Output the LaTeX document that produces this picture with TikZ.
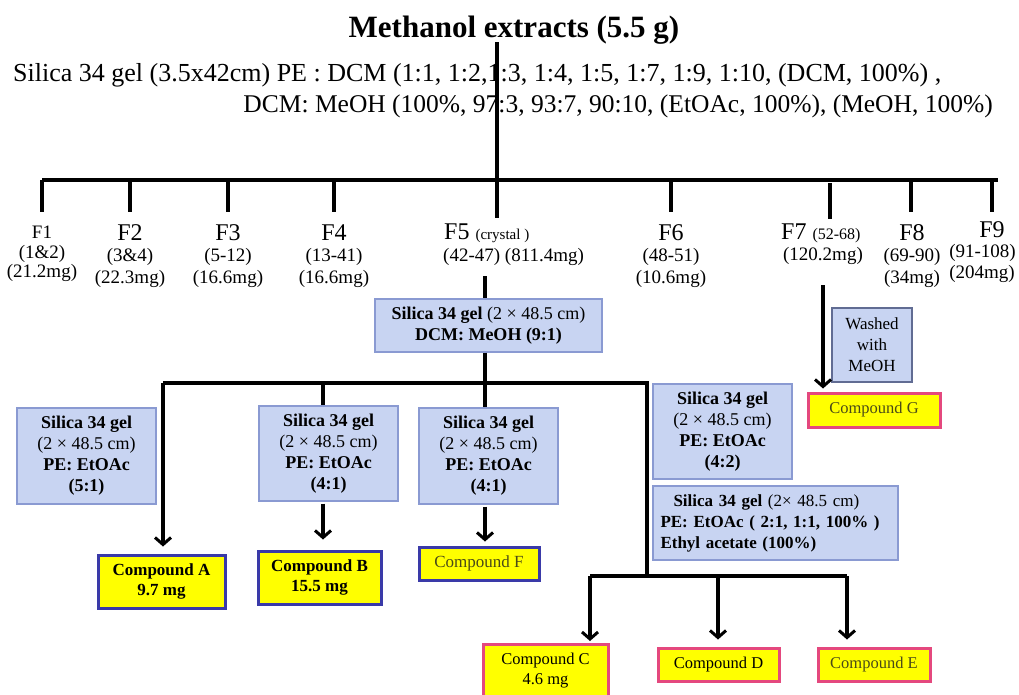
\documentclass[tikz,border=0pt]{standalone}
\usepackage{fontspec}
\setmainfont{Liberation Serif}
\usetikzlibrary{arrows.meta,positioning}

\definecolor{gelfill}{HTML}{C8D4F2}
\definecolor{geldraw}{HTML}{8A9AD2}
\definecolor{cmpfill}{HTML}{FFFF00}
\definecolor{bluedraw}{HTML}{3A3AA8}
\definecolor{reddraw}{HTML}{E4487E}
\definecolor{olivetext}{HTML}{4A4A18}

\newcommand\titlefont{\fontsize{31}{36}\selectfont}
\newcommand\elufont{\fontsize{25.5}{30}\selectfont}
\newcommand\fnamefont{\fontsize{24}{28}\selectfont}
\newcommand\fsubfont{\fontsize{19}{22}\selectfont}
\newcommand\gelfont{\fontsize{18}{21}\selectfont}
\newcommand\cmpfont{\fontsize{16.5}{19.5}\selectfont}

\tikzset{
  gelbox/.style={draw=geldraw, fill=gelfill, line width=1.2pt, align=center, inner sep=2pt, font=\gelfont},
  cmpblue/.style={draw=bluedraw, fill=cmpfill, line width=3pt, align=center, inner sep=2pt, font=\fontsize{17}{20}\selectfont},
  cmpred/.style={draw=reddraw, fill=cmpfill, line width=3pt, align=center, inner sep=2pt, font=\cmpfont},
  fname/.style={inner sep=0pt, font=\fnamefont},
  fsub/.style={inner sep=0pt, font=\fsubfont},
  conn/.style={line width=3.2pt},
  arr/.style={conn, -{Straight Barb[length=7pt,width=16pt,line width=3pt]}}
}

\begin{document}
\begin{tikzpicture}[x=1pt,y=-1pt]
\useasboundingbox (0,0) rectangle (1019,694);

% title and eluent of the first column
\node (meth) [inner sep=0pt, font=\titlefont] at (514,30) {\textbf{Methanol extracts (5.5 g)}};
\node (elu1) [inner sep=0pt, font=\fontsize{26}{30}\selectfont, anchor=base west] at (13,81)
  {Silica 34 gel (3.5x42cm) PE : DCM (1:1, 1:2,1:3, 1:4, 1:5, 1:7, 1:9, 1:10, (DCM, 100\%) ,};
\node (elu2) [inner sep=0pt, font=\elufont, anchor=base east] at (993,112)
  {DCM: MeOH (100\%, 97:3, 93:7, 90:10, (EtOAc, 100\%), (MeOH, 100\%)};

% fraction bar
\coordinate (top) at (497,42);
\coordinate (barL) at (42,180);
\coordinate (barR) at (998,180);
\coordinate (d5) at (497,218);
\draw[conn] (barL) -- (barR);
\draw[conn] (top) -- (d5);
\foreach \n/\x in {1/42,2/130,3/228,4/334,6/671,8/911,9/992} {
  \coordinate (d\n) at (\x,212);
  \draw[conn] (d\n |- barL) -- (d\n);
}
\coordinate (d7t) at (830,183);
\coordinate (d7) at (830,219);
\draw[conn] (d7t) -- (d7);

% fractions
\node (fn1) [inner sep=0pt, font=\fsubfont] at (42,232) {F1};
\node (fr1) [fsub] at (42,254) {(1\&2)};
\node (fm1) [fsub] at (42,273) {(21.2mg)};
\foreach \n/\x/\r/\m in {2/130/(3\&4)/(22.3mg), 3/228/(5-12)/(16.6mg), 4/334/(13-41)/(16.6mg),
                         6/671/(48-51)/(10.6mg), 8/912/(69-90)/(34mg)} {
  \node (fn\n) [fname] at (\x,233) {F\n};
  \node (fr\n) [fsub] at (\x,257) {\r};
  \node (fm\n) [fsub] at (\x,279) {\m};
}
\node (fn5) [fname, anchor=west] at (444,233) {F5 {\fontsize{15}{18}\selectfont(crystal )}};
\node (fr5) [fsub, anchor=west] at (443,257) {(42-47) (811.4mg)};
\node (fn7) [fname, anchor=west] at (781,233) {F7 {\fontsize{16}{18}\selectfont(52-68)}};
\node (fm7) [fsub] at (823,256) {(120.2mg)};
\node (fn9) [fname] at (992,230) {F9};
\node (fr9) [fsub, anchor=east] at (1016,253) {(91-108)};
\node (fm9) [fsub, anchor=east] at (1015,274) {(204mg)};

% F5 column
\node (sg5) [gelbox, minimum width=227pt, minimum height=53pt] at (488.5,325.5)
  {\textbf{Silica 34 gel} (2 × 48.5 cm)\\\textbf{DCM: MeOH (9:1)}};
\coordinate (c5) at (485,276);
\draw[conn] (c5) -- (c5 |- sg5.north);

\node (sgA) [gelbox, minimum width=139pt, minimum height=96pt] at (86.5,456)
  {\textbf{Silica 34 gel}\\(2 × 48.5 cm)\\\textbf{PE: EtOAc}\\\textbf{(5:1)}};
\node (sgB) [gelbox, minimum width=139pt, minimum height=95pt] at (328.5,453.5)
  {\textbf{Silica 34 gel}\\(2 × 48.5 cm)\\\textbf{PE: EtOAc}\\\textbf{(4:1)}};
\node (sgF) [gelbox, minimum width=139pt, minimum height=96pt] at (488.5,456)
  {\textbf{Silica 34 gel}\\(2 × 48.5 cm)\\\textbf{PE: EtOAc}\\\textbf{(4:1)}};
\node (sgD) [gelbox, minimum width=139pt, minimum height=95pt] at (722.5,431.5)
  {\textbf{Silica 34 gel}\\(2 × 48.5 cm)\\\textbf{PE: EtOAc}\\\textbf{(4:2)}};
\node (sgE) [gelbox, font=\fontsize{17}{21}\selectfont, minimum width=245pt, minimum height=74pt,
             text width=230pt, align=left] at (775.5,523)
  {\hspace*{13pt}\textbf{Silica 34 gel} (2× 48.5 cm)\\\textbf{PE: EtOAc ( 2:1, 1:1, 100\% )}\\\textbf{Ethyl acetate (100\%)}};

\node (cmpA) [cmpblue, minimum width=127pt, minimum height=53pt] at (161.5,581.5)
  {\textbf{Compound A}\\\textbf{9.7 mg}};
\node (cmpB) [cmpblue, minimum width=123pt, minimum height=53pt] at (319.5,577.5)
  {\textbf{Compound B}\\\textbf{15.5 mg}};
\node (cmpF) [cmpblue, minimum width=120pt, minimum height=33pt, text=olivetext] at (479,563.5) {Compound F};
\node (cmpC) [cmpred, anchor=north, minimum width=125pt, inner ysep=9pt, text depth=12pt] at (545.5,643)
  {Compound C\\4.6 mg};
\node (cmpD) [cmpred, minimum width=121pt, minimum height=33pt] at (718.5,664.5) {Compound D};
\node (cmpE) [cmpred, minimum width=112pt, minimum height=33pt, text=olivetext] at (874,664.5) {Compound E};

% second bar and its branches
\coordinate (bar2L) at (163,383);
\coordinate (bar2R) at (647,383);
\coordinate (cB) at (323,383);
\coordinate (bar3L) at (590,576);
\coordinate (bar3M) at (718,576);
\coordinate (bar3R) at (847,576);
\draw[conn] (c5 |- sg5.south) -- (c5 |- sgF.north);
\draw[conn] (bar2L) -- (bar2R) -- (bar2R |- bar3L);
\draw[conn] (cB) -- (cB |- sgB.north);
\draw[conn] (bar3L) -- (bar3R);
\draw[arr, shorten >=7pt] (bar2L) -- (bar2L |- cmpA.north);
\draw[arr, shorten <=2pt, shorten >=10pt] (cB |- sgB.south) -- (cB |- cmpB.north);
\draw[arr, shorten <=2pt, shorten >=4pt] (c5 |- sgF.south) -- (c5 |- cmpF.north);
\draw[arr, shorten >=2pt] (bar3L) -- (bar3L |- cmpC.north);
\draw[arr, shorten >=7pt] (bar3M) -- (bar3M |- cmpD.north);
\draw[arr, shorten >=7pt] (bar3R) -- (bar3R |- cmpE.north);

% F7 column
\node (wash) [gelbox, font=\fontsize{17}{21}\selectfont, minimum width=80pt, minimum height=74pt, draw=geldraw!70!black] at (872,345)
  {Washed\\with\\MeOH};
\node (cmpG) [cmpred, minimum width=132pt, minimum height=34pt, text=olivetext] at (874,410) {Compound G};
\coordinate (c7) at (823,285);
\draw[arr, shorten >=3pt] (c7) -- (c7 |- cmpG.north);
\end{tikzpicture}
\end{document}
